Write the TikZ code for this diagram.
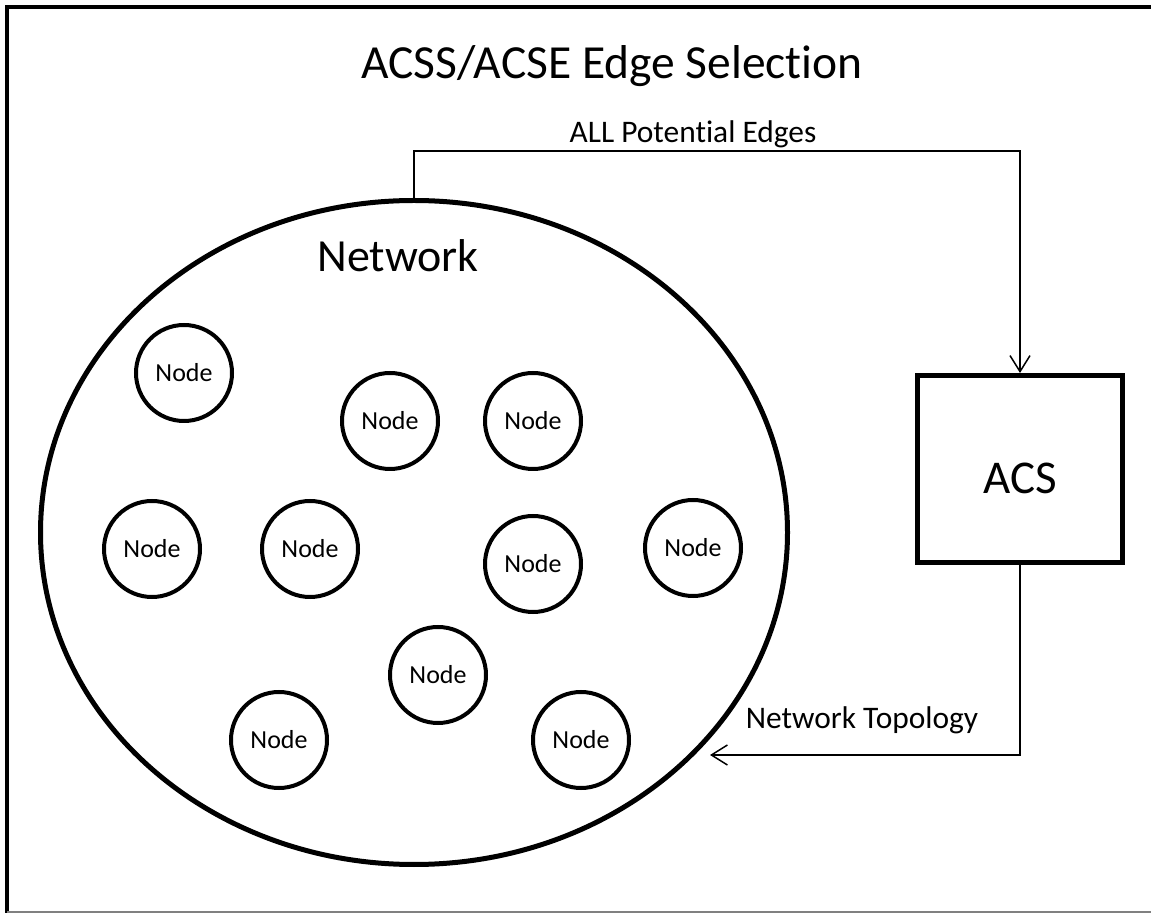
\documentclass[tikz,border=0pt]{standalone}
\usepackage{fontspec}
\setmainfont{Carlito}[Ligatures=NoCommon]
\usetikzlibrary{automata, positioning, shapes.geometric, arrows.meta}
\tikzset{
>={Straight Barb[length=8pt,width=10pt]}, % open arrow heads
every state/.style={line width=2pt, minimum size=48pt, inner sep=0pt, font=\fontsize{13}{15}\selectfont}, % the small node circles
network/.style={ellipse, draw, line width=2.5pt, minimum width=373.5pt, minimum height=332pt, inner sep=0pt}, % the big ellipse
acsbox/.style={rectangle, draw, line width=2.5pt, minimum width=102.5pt, minimum height=93.5pt, font=\fontsize{23.5}{28}\selectfont},
link/.style={->, line width=0.75pt}, % the two connectors
edgelabel/.style={font=\fontsize{15.7}{19}\selectfont},
}

\begin{document}
\begin{tikzpicture}[x=0.5pt, y=-0.5pt]
        \useasboundingbox (0,0) rectangle (1151,913);
        % frame
        \draw[line width=2pt] (7,913) -- (7,7) -- (1151,7);
        \draw[gray, line width=1pt] (7,911.5) -- (1151,911.5);

        \node[font=\fontsize{23.75}{28}\selectfont] (title) at (612,66) {ACSS/ACSE Edge Selection};

        \node[network] (net) at (414,532.5) {};
        \node[font=\fontsize{23}{28}\selectfont] (netlbl) at (398,256) {Network};

        \node[state] (n1) at (184,373) {Node};
        \node[state] (n2) at (390,421) {Node};
        \node[state] (n3) at (533,421) {Node};
        \node[state] (n4) at (152,549) {Node};
        \node[state] (n5) at (310,549) {Node};
        \node[state] (n6) at (533,564) {Node};
        \node[state] (n7) at (693,548) {Node};
        \node[state] (n8) at (438,675) {Node};
        \node[state] (n9) at (279,740) {Node};
        \node[state] (n10) at (581,740) {Node};

        \node[acsbox] (acs) at (1020,469) {\raisebox{-4.5pt}[\height][\depth]{ACS}};

        \coordinate (bend) at (716,151);
        \coordinate (topo) at (710,755);

        \draw[link] (net.north) |- (bend) -| (acs.north);
        \node[edgelabel] (alllbl) at (693,134) {ALL Potential Edges};

        \draw[link] (acs.south) |- (topo);
        \node[edgelabel] (topolbl) at (862,720) {Network Topology};
    \end{tikzpicture}
\end{document}
